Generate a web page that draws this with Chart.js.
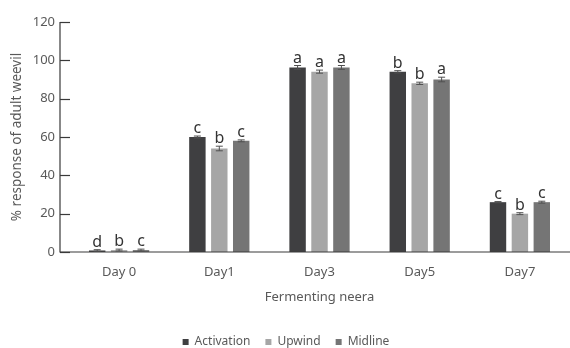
<!DOCTYPE html>
<html>
<head>
<meta charset="utf-8">
<script src="https://cdn.jsdelivr.net/npm/chart.js@4.4.1/dist/chart.umd.min.js"></script>
<style>
  html, body { margin: 0; padding: 0; background: #fff; }
  #wrap { width: 570px; height: 348px; }
</style>
</head>
<body>
<div id="wrap"><canvas id="bar-chart" width="570" height="348"></canvas></div>
<script>
  const days = ['Day 0', 'Day1', 'Day3', 'Day5', 'Day7'];
  const activation = [0.8, 60, 96.3, 94, 26];
  const upwind = [1, 54, 94.1, 88, 20];
  const midline = [1, 58, 96.3, 90, 26];
  const activationErr = [0.4, 0.5, 1, 0.6, 0.3];
  const upwindErr = [0.5, 1.2, 0.8, 0.6, 0.5];
  const midlineErr = [0.5, 0.5, 1, 1.2, 0.5];
  const activationLetters = ['d', 'c', 'a', 'b', 'c'];
  const upwindLetters = ['b', 'b', 'a', 'b', 'b'];
  const midlineLetters = ['c', 'c', 'a', 'a', 'c'];
  const yTicks = [0, 20, 40, 60, 80, 100, 120];

  const errs = [activationErr, upwindErr, midlineErr];
  const letters = [activationLetters, upwindLetters, midlineLetters];
  const fontFamily = '"Noto Sans", "Open Sans", sans-serif';
  const textGrey = '#595959';

  // axis lines, inward ticks, error bars and significance letters
  const decorate = {
    id: 'decorate',
    afterDatasetsDraw(chart) {
      const { ctx, chartArea, scales: { y } } = chart;
      const axisX = chartArea.left - 9;
      ctx.save();
      ctx.strokeStyle = '#3a3a3a';
      ctx.lineWidth = 1.2;
      ctx.beginPath();
      ctx.moveTo(axisX, y.getPixelForValue(120));
      ctx.lineTo(axisX, y.getPixelForValue(0));
      ctx.lineTo(chart.width, y.getPixelForValue(0));
      ctx.stroke();
      yTicks.forEach(v => {
        const py = Math.round(y.getPixelForValue(v)) + 0.5;
        ctx.beginPath();
        ctx.moveTo(axisX, py);
        ctx.lineTo(axisX + 10, py);
        ctx.stroke();
      });

      ctx.strokeStyle = '#505050';
      ctx.lineWidth = 1;
      ctx.fillStyle = '#333';
      ctx.font = '16px ' + fontFamily;
      ctx.textAlign = 'center';
      ctx.textBaseline = 'alphabetic';
      chart.data.datasets.forEach((ds, i) => {
        chart.getDatasetMeta(i).data.forEach((bar, j) => {
          const v = ds.data[j];
          const top = y.getPixelForValue(v + errs[i][j]);
          const bot = y.getPixelForValue(v - errs[i][j]);
          ctx.beginPath();
          ctx.moveTo(bar.x, top);
          ctx.lineTo(bar.x, bot);
          ctx.moveTo(bar.x - 3.5, top);
          ctx.lineTo(bar.x + 3.5, top);
          ctx.moveTo(bar.x - 3.5, bot);
          ctx.lineTo(bar.x + 3.5, bot);
          ctx.stroke();
          ctx.fillText(letters[i][j], bar.x, top - 3);
        });
      });
      ctx.restore();
    }
  };

  const makeSet = (label, data, colour) => ({
    label: label,
    data: data,
    backgroundColor: colour,
    borderWidth: 0,
    categoryPercentage: 0.656,
    barPercentage: 0.75
  });

  new Chart(document.getElementById('bar-chart').getContext('2d'), {
    type: 'bar',
    data: {
      labels: days,
      datasets: [
        makeSet('Activation', activation, '#3f3f41'),
        makeSet('Upwind', upwind, '#a6a6a6'),
        makeSet('Midline', midline, '#757575')
      ]
    },
    options: {
      responsive: false,
      animation: false,
      layout: { padding: { top: 22, left: 0, right: -2, bottom: -10 } },
      plugins: {
        tooltip: { enabled: false },
        legend: {
          position: 'bottom',
          labels: {
            boxWidth: 6,
            boxHeight: 6,
            padding: 15,
            color: textGrey,
            font: { family: fontFamily, size: 12 }
          }
        }
      },
      scales: {
        x: {
          grid: { display: false },
          border: { display: false },
          ticks: { color: textGrey, padding: 4, font: { family: fontFamily, size: 13 } },
          title: {
            display: true,
            text: 'Fermenting neera',
            color: textGrey,
            padding: { top: 0, bottom: 16 },
            font: { family: fontFamily, size: 13 }
          },
          afterFit: s => { s.height = 69; }
        },
        y: {
          min: 0,
          max: 120,
          grid: { display: false, drawTicks: false },
          border: { display: false },
          afterBuildTicks: s => { s.ticks = yTicks.map(v => ({ value: v })); },
          ticks: { color: textGrey, padding: 14, font: { family: fontFamily, size: 13 } },
          title: {
            display: true,
            text: '% response of adult weevil',
            color: textGrey,
            padding: { top: 9, bottom: 0 },
            font: { family: fontFamily, size: 13.5 }
          },
          afterFit: s => { s.width = 69; }
        }
      }
    },
    plugins: [decorate]
  });
</script>
</body>
</html>
